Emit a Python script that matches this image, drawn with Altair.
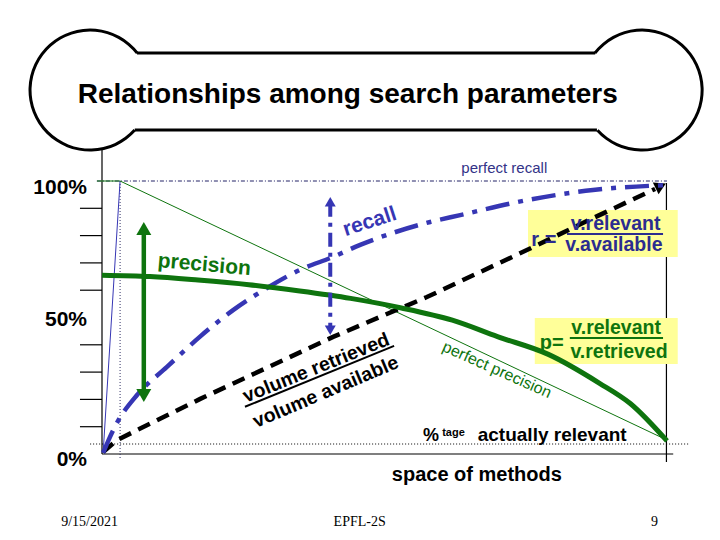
import altair as alt
import pandas as pd

# ---------------- data (x: space of methods 0-100, y: percent 0-100) ----------------
prec_x = [0, 8.5, 17, 26, 35, 44, 53, 62, 70, 79, 88, 93.5, 100]
prec_y = [65.5, 65, 63.7, 62, 59.7, 57, 53.5, 49, 43, 36.5, 26, 18.5, 4.8]

rec_x = [0.2, 1.4, 2.65, 6.2, 11.5, 17.3, 23.2, 29.2, 35.0, 40.9, 45.7, 51.5, 58.1, 63.4, 75.2, 86.9, 99.8]
rec_y = [0.4, 6.2, 11.4, 21.6, 31.9, 42.9, 52.7, 60.8, 67.4, 72.2, 76.6, 81.0, 85.0, 87.5, 93.0, 96.7, 98.5]

vol_x = [0.2, 2.65, 17.3, 40.9, 57.5, 75.2, 86.9, 97.9]
vol_y = [0.7, 5.1, 20.1, 42.9, 57.5, 74.7, 86.4, 97.1]

perfect_recall_x = [-0.9, 100]
perfect_recall_y = [100, 100]
perfect_prec_x = [3.2, 100]
perfect_prec_y = [100, 5.1]
ideal_x = [0.2, 3.2]
ideal_y = [0.4, 100]
relevant_level = 3.66

tick_vals = [10, 20, 30, 40, 60, 70, 80, 90]
tick_labels = ["100%", "50%", "0%"]
tick_label_y = [97.5, 49.1, -2.2]

title_text = "Relationships among search parameters"
footer_texts = ["9/15/2021", "EPFL-2S", "9"]
footer_x = [-2.2, 45.6, 97.8]

# ---------------- styling ----------------
FONT = "Liberation Sans"
SERIF = "Liberation Serif"
BLUE = "#3636b4"
NAVY = "#2c2c90"
GREEN = "#0e740e"
YELLOW = "#ffff99"

xs = alt.Scale(domain=[0, 100], nice=False, zero=False)
ys = alt.Scale(domain=[0, 100], nice=False, zero=False)


def X(f="x"):
    return alt.X(f"{f}:Q", scale=xs, axis=None)


def Y(f="y"):
    return alt.Y(f"{f}:Q", scale=ys, axis=None)


def line(xv, yv, **props):
    df = pd.DataFrame({"x": xv, "y": yv, "i": list(range(len(xv)))})
    return alt.Chart(df).mark_line(**props).encode(x=X(), y=Y(), order="i:Q")


def seg(x1, y1, x2, y2, **props):
    df = pd.DataFrame({"x": [x1], "y": [y1], "x2": [x2], "y2": [y2]})
    return alt.Chart(df).mark_rule(**props).encode(
        x=X(), y=Y(), x2=alt.X2("x2"), y2=alt.Y2("y2"))


def point(xv, yv, **props):
    df = pd.DataFrame({"x": xv, "y": yv})
    return alt.Chart(df).mark_point(**props).encode(x=X(), y=Y())


def texts(labels, xv, yv, angles=None, sizes=None, colors=None, **props):
    n = len(labels)
    df = pd.DataFrame({
        "t": labels, "x": xv, "y": yv,
        "a": angles if angles else [0] * n,
        "s": sizes if sizes else [18] * n,
        "c": colors if colors else ["black"] * n,
    })
    return alt.Chart(df).mark_text(**props).encode(
        x=X(), y=Y(), text="t:N",
        angle=alt.Angle("a:Q", scale=None),
        size=alt.Size("s:Q", scale=None),
        color=alt.Color("c:N", scale=None),
    )


layers = []

# ---- bone-shaped title frame ----
bone_cx = [-2.12, 95.6]
bone_cy = [133.3, 133.3]
layers.append(alt.Chart(pd.DataFrame({"x": [bone_cx[0]], "y": [bone_cy[0]]}))
              .mark_arc(theta=2.301, theta2=7.189, radius=61.5, radius2=58.5, color="black")
              .encode(x=X(), y=Y()))
layers.append(alt.Chart(pd.DataFrame({"x": [bone_cx[1]], "y": [bone_cy[1]]}))
              .mark_arc(theta=5.377, theta2=10.265, radius=61.5, radius2=58.5, color="black")
              .encode(x=X(), y=Y()))
layers.append(seg(6.2, 146.9, 87.3, 146.9, color="black", strokeWidth=3))
layers.append(seg(5.8, 118.7, 87.6, 118.7, color="black", strokeWidth=3))

# ---- axes frame ----
layers.append(seg(0, 111.4, 0, 0, color="black", strokeWidth=1.2))
layers.append(seg(0, 0, 101.1, 0, color="black", strokeWidth=1.2))
layers.append(seg(99.9, 99.3, 99.9, -2.9, color="black", strokeWidth=1.2))
tick_df = pd.DataFrame({"y": tick_vals, "x": [-3.9] * len(tick_vals), "x2": [0] * len(tick_vals)})
layers.append(alt.Chart(tick_df).mark_rule(color="black", strokeWidth=1.2)
              .encode(x=X(), x2=alt.X2("x2"), y=Y()))
layers.append(seg(3.2, 100, 3.2, -1.5, color="#333366", strokeWidth=1, strokeDash=[1, 2]))
layers.append(seg(-2.1, relevant_level, 104, relevant_level, color="black", strokeWidth=1, strokeDash=[1, 2]))

# ---- reference lines ----
layers.append(line(perfect_recall_x, perfect_recall_y, color="#222266", strokeWidth=1, strokeDash=[4, 2, 1, 2]))
layers.append(seg(-0.9, 100, 3.2, 100, color=GREEN, strokeWidth=1))
layers.append(line(ideal_x, ideal_y, color=BLUE, strokeWidth=1))
layers.append(line(perfect_prec_x, perfect_prec_y, color=GREEN, strokeWidth=1))

# ---- yellow formula boxes ----
box_df = pd.DataFrame({"x": [75.4, 76.6], "x2": [101.9, 101.9], "y": [89.4, 49.8], "y2": [72.2, 33.0]})
layers.append(alt.Chart(box_df).mark_rect(color=YELLOW)
              .encode(x=X(), x2=alt.X2("x2"), y=Y(), y2=alt.Y2("y2")))

# ---- curves ----
layers.append(line(vol_x, vol_y, color="black", strokeWidth=4.5, strokeDash=[13, 8]))
layers.append(point([98.9], [98.2], shape="triangle-up", filled=True, size=170, color="black",
                    opacity=1, angle=64))
layers.append(line(rec_x, rec_y, color=BLUE, strokeWidth=4.5, strokeDash=[24, 9, 5, 9],
                   interpolate="monotone"))
layers.append(line(prec_x, prec_y, color=GREEN, strokeWidth=5, interpolate="monotone"))

# ---- precision double arrow ----
layers.append(seg(7.4, 82, 7.4, 22, color=GREEN, strokeWidth=4.5))
layers.append(point([7.4], [82.6], shape="triangle-up", filled=True, size=225, color=GREEN, opacity=1))
layers.append(point([7.4], [21.4], shape="triangle-down", filled=True, size=225, color=GREEN, opacity=1))

# ---- recall double arrow ----
layers.append(seg(40.4, 92, 40.4, 45.8, color=BLUE, strokeWidth=4, strokeDash=[14, 6, 4, 6]))
layers.append(point([40.4], [92.4], shape="triangle-up", filled=True, size=120, color=BLUE, opacity=1))
layers.append(point([40.4], [45.3], shape="triangle-down", filled=True, size=120, color=BLUE, opacity=1))

# ---- fraction bars ----
layers.append(seg(25.3, 17.3, 51.7, 39.6, color="black", strokeWidth=2))
layers.append(seg(82.3, 80.6, 99.3, 80.6, color=NAVY, strokeWidth=2))
layers.append(seg(82.8, 42.5, 99.3, 42.5, color=GREEN, strokeWidth=2))

# ---- text ----
layers.append(texts(
    [title_text, "volume retrieved", "volume available", "precision", "recall",
     "r =", "v.relevant", "v.available", "p=", "v.relevant", "v.retrieved"],
    [43.5, 37.9, 39.6, 18.1, 47.4, 78.2, 90.9, 90.6, 79.6, 91.0, 91.5],
    [131.6, 31.5, 22.7, 69.2, 85.0, 78.4, 84.3, 76.5, 40.7, 46.0, 37.2],
    angles=[0, 338, 337, 5, 342, 0, 0, 0, 0, 0, 0],
    sizes=[28, 19.5, 19.5, 21, 21, 20, 19.5, 19.5, 20, 19.5, 19.5],
    colors=["black", "black", "black", GREEN, BLUE, NAVY, NAVY, NAVY, GREEN, GREEN, GREEN],
    font=FONT, fontWeight="bold", align="center", baseline="middle"))

layers.append(texts(tick_labels, [-2.65] * 3, tick_label_y, sizes=[21] * 3,
                    font=FONT, fontWeight="bold", align="right", baseline="middle"))

layers.append(texts(["space of methods", "%", "tage", "actually relevant"],
                    [51.3, 56.8, 60.2, 66.5], [-9.9, 4.8, 6.6, 4.8],
                    sizes=[20, 18, 11, 19],
                    font=FONT, fontWeight="bold", align="left", baseline="alphabetic"))

layers.append(texts(["perfect recall", "perfect precision"], [71.2, 69.9], [104.8, 30.8],
                    angles=[0, 24], sizes=[15, 16], colors=["#333388", GREEN],
                    font=FONT, align="center", baseline="middle"))

layers.append(texts(footer_texts, footer_x, [-24.9] * 3, sizes=[14] * 3,
                    font=SERIF, align="center", baseline="middle"))

chart = (
    alt.layer(*layers)
    .properties(width=565, height=273,
                padding={"left": 94, "top": 173, "right": 45, "bottom": 78},
                autosize=alt.AutoSizeParams(type="none"),
                background="white")
    .configure_view(stroke=None)
)

chart.save("out.html", embed_options={"renderer": "svg", "actions": False})
